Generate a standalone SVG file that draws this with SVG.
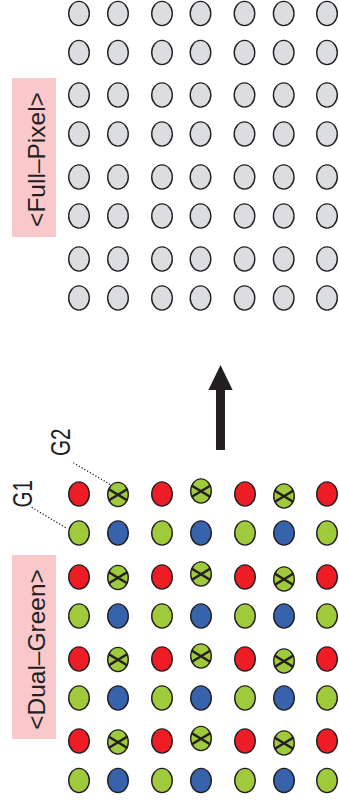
<svg xmlns="http://www.w3.org/2000/svg" width="339" height="809" viewBox="0 0 339 809">
<style>
.n{stroke:#231f20;stroke-width:1.4}
.gy{fill:#dcdde0}.r{fill:#ee1c25}.g{fill:#9fca3c}.b{fill:#3763ad}
.x{stroke:#231f20;stroke-width:2.6;fill:none}
.lbl{font-family:"Liberation Sans",Arial,sans-serif;fill:#231f20;text-anchor:middle}
.lead{stroke:#231f20;stroke-width:1.3;stroke-dasharray:1.2 2;fill:none}
</style>
<defs>
<ellipse id="e" rx="10.3" ry="12.1"/>
<path id="xx" d="M-9.5,-5.5L9.5,6M-9.5,6L9.5,-5.5"/>
</defs>
<rect x="12" y="78" width="44" height="159" fill="#f9c8cb"/>
<rect x="12" y="555" width="44" height="184" fill="#f9c8cb"/>
<text class="lbl" font-size="24.5" transform="translate(45,159.5) rotate(-90)">&lt;Full–Pixel&gt;</text>
<text class="lbl" font-size="24.5" transform="translate(45,649.5) rotate(-90)">&lt;Dual–Green&gt;</text>
<text class="lbl" font-size="27" textLength="27.5" lengthAdjust="spacingAndGlyphs" transform="translate(31.5,493.7) rotate(-90)">G1</text>
<text class="lbl" font-size="27" textLength="27.5" lengthAdjust="spacingAndGlyphs" transform="translate(70,442.2) rotate(-90)">G2</text>
<g id="connectors">
<path class="lead" d="M31.7,507.3L67,528.5"/>
<path class="lead" d="M73.3,462.7L111,485"/>
<g id="arrow" fill="#231f20"><rect x="216" y="389" width="9" height="61"/><polygon points="220.5,365 232.6,390 208.4,390"/></g>
</g>
<g id="full-pixel" class="n">
<g id="t1c1"><use href="#e" class="gy" x="79" y="13.5"/></g><g id="t1c2"><use href="#e" class="gy" x="118" y="13.5"/></g><g id="t1c3"><use href="#e" class="gy" x="162" y="13.5"/></g><g id="t1c4"><use href="#e" class="gy" x="200.5" y="13.5"/></g><g id="t1c5"><use href="#e" class="gy" x="244.5" y="13.5"/></g><g id="t1c6"><use href="#e" class="gy" x="283.7" y="13.5"/></g><g id="t1c7"><use href="#e" class="gy" x="327" y="13.5"/></g>
<g id="t2c1"><use href="#e" class="gy" x="79" y="52.5"/></g><g id="t2c2"><use href="#e" class="gy" x="118" y="52.5"/></g><g id="t2c3"><use href="#e" class="gy" x="162" y="52.5"/></g><g id="t2c4"><use href="#e" class="gy" x="200.5" y="52.5"/></g><g id="t2c5"><use href="#e" class="gy" x="244.5" y="52.5"/></g><g id="t2c6"><use href="#e" class="gy" x="283.7" y="52.5"/></g><g id="t2c7"><use href="#e" class="gy" x="327" y="52.5"/></g>
<g id="t3c1"><use href="#e" class="gy" x="79" y="95"/></g><g id="t3c2"><use href="#e" class="gy" x="118" y="95"/></g><g id="t3c3"><use href="#e" class="gy" x="162" y="95"/></g><g id="t3c4"><use href="#e" class="gy" x="200.5" y="95"/></g><g id="t3c5"><use href="#e" class="gy" x="244.5" y="95"/></g><g id="t3c6"><use href="#e" class="gy" x="283.7" y="95"/></g><g id="t3c7"><use href="#e" class="gy" x="327" y="95"/></g>
<g id="t4c1"><use href="#e" class="gy" x="79" y="134"/></g><g id="t4c2"><use href="#e" class="gy" x="118" y="134"/></g><g id="t4c3"><use href="#e" class="gy" x="162" y="134"/></g><g id="t4c4"><use href="#e" class="gy" x="200.5" y="134"/></g><g id="t4c5"><use href="#e" class="gy" x="244.5" y="134"/></g><g id="t4c6"><use href="#e" class="gy" x="283.7" y="134"/></g><g id="t4c7"><use href="#e" class="gy" x="327" y="134"/></g>
<g id="t5c1"><use href="#e" class="gy" x="79" y="177"/></g><g id="t5c2"><use href="#e" class="gy" x="118" y="177"/></g><g id="t5c3"><use href="#e" class="gy" x="162" y="177"/></g><g id="t5c4"><use href="#e" class="gy" x="200.5" y="177"/></g><g id="t5c5"><use href="#e" class="gy" x="244.5" y="177"/></g><g id="t5c6"><use href="#e" class="gy" x="283.7" y="177"/></g><g id="t5c7"><use href="#e" class="gy" x="327" y="177"/></g>
<g id="t6c1"><use href="#e" class="gy" x="79" y="216"/></g><g id="t6c2"><use href="#e" class="gy" x="118" y="216"/></g><g id="t6c3"><use href="#e" class="gy" x="162" y="216"/></g><g id="t6c4"><use href="#e" class="gy" x="200.5" y="216"/></g><g id="t6c5"><use href="#e" class="gy" x="244.5" y="216"/></g><g id="t6c6"><use href="#e" class="gy" x="283.7" y="216"/></g><g id="t6c7"><use href="#e" class="gy" x="327" y="216"/></g>
<g id="t7c1"><use href="#e" class="gy" x="79" y="259"/></g><g id="t7c2"><use href="#e" class="gy" x="118" y="259"/></g><g id="t7c3"><use href="#e" class="gy" x="162" y="259"/></g><g id="t7c4"><use href="#e" class="gy" x="200.5" y="259"/></g><g id="t7c5"><use href="#e" class="gy" x="244.5" y="259"/></g><g id="t7c6"><use href="#e" class="gy" x="283.7" y="259"/></g><g id="t7c7"><use href="#e" class="gy" x="327" y="259"/></g>
<g id="t8c1"><use href="#e" class="gy" x="79" y="298"/></g><g id="t8c2"><use href="#e" class="gy" x="118" y="298"/></g><g id="t8c3"><use href="#e" class="gy" x="162" y="298"/></g><g id="t8c4"><use href="#e" class="gy" x="200.5" y="298"/></g><g id="t8c5"><use href="#e" class="gy" x="244.5" y="298"/></g><g id="t8c6"><use href="#e" class="gy" x="283.7" y="298"/></g><g id="t8c7"><use href="#e" class="gy" x="327" y="298"/></g>
</g>
<g id="dual-green" class="n">
<g id="b1c1"><use href="#e" class="r" x="79" y="494"/></g><g id="b1c2"><use href="#e" class="g" x="118" y="494.5"/><use href="#xx" class="x" x="118" y="494.5"/></g><g id="b1c3"><use href="#e" class="r" x="162" y="494"/></g><g id="b1c4"><use href="#e" class="g" x="201" y="491"/><use href="#xx" class="x" x="201" y="491"/></g><g id="b1c5"><use href="#e" class="r" x="245" y="494"/></g><g id="b1c6"><use href="#e" class="g" x="284" y="496"/><use href="#xx" class="x" x="284" y="496"/></g><g id="b1c7"><use href="#e" class="r" x="327" y="494"/></g>
<g id="b2c1"><use href="#e" class="g" x="79" y="533"/></g><g id="b2c2"><use href="#e" class="b" x="118" y="533"/></g><g id="b2c3"><use href="#e" class="g" x="162" y="533"/></g><g id="b2c4"><use href="#e" class="b" x="201" y="533"/></g><g id="b2c5"><use href="#e" class="g" x="245" y="533"/></g><g id="b2c6"><use href="#e" class="b" x="284" y="533"/></g><g id="b2c7"><use href="#e" class="g" x="327" y="533"/></g>
<g id="b3c1"><use href="#e" class="r" x="79" y="577"/></g><g id="b3c2"><use href="#e" class="g" x="118" y="577.5"/><use href="#xx" class="x" x="118" y="577.5"/></g><g id="b3c3"><use href="#e" class="r" x="162" y="577"/></g><g id="b3c4"><use href="#e" class="g" x="201" y="574"/><use href="#xx" class="x" x="201" y="574"/></g><g id="b3c5"><use href="#e" class="r" x="245" y="577"/></g><g id="b3c6"><use href="#e" class="g" x="284" y="579"/><use href="#xx" class="x" x="284" y="579"/></g><g id="b3c7"><use href="#e" class="r" x="327" y="577"/></g>
<g id="b4c1"><use href="#e" class="g" x="79" y="616"/></g><g id="b4c2"><use href="#e" class="b" x="118" y="616"/></g><g id="b4c3"><use href="#e" class="g" x="162" y="616"/></g><g id="b4c4"><use href="#e" class="b" x="201" y="616"/></g><g id="b4c5"><use href="#e" class="g" x="245" y="616"/></g><g id="b4c6"><use href="#e" class="b" x="284" y="616"/></g><g id="b4c7"><use href="#e" class="g" x="327" y="616"/></g>
<g id="b5c1"><use href="#e" class="r" x="79" y="659"/></g><g id="b5c2"><use href="#e" class="g" x="118" y="659.5"/><use href="#xx" class="x" x="118" y="659.5"/></g><g id="b5c3"><use href="#e" class="r" x="162" y="659"/></g><g id="b5c4"><use href="#e" class="g" x="201" y="656"/><use href="#xx" class="x" x="201" y="656"/></g><g id="b5c5"><use href="#e" class="r" x="245" y="659"/></g><g id="b5c6"><use href="#e" class="g" x="284" y="661"/><use href="#xx" class="x" x="284" y="661"/></g><g id="b5c7"><use href="#e" class="r" x="327" y="659"/></g>
<g id="b6c1"><use href="#e" class="g" x="79" y="698"/></g><g id="b6c2"><use href="#e" class="b" x="118" y="698"/></g><g id="b6c3"><use href="#e" class="g" x="162" y="698"/></g><g id="b6c4"><use href="#e" class="b" x="201" y="698"/></g><g id="b6c5"><use href="#e" class="g" x="245" y="698"/></g><g id="b6c6"><use href="#e" class="b" x="284" y="698"/></g><g id="b6c7"><use href="#e" class="g" x="327" y="698"/></g>
<g id="b7c1"><use href="#e" class="r" x="79" y="741"/></g><g id="b7c2"><use href="#e" class="g" x="118" y="742"/><use href="#xx" class="x" x="118" y="742"/></g><g id="b7c3"><use href="#e" class="r" x="162" y="741"/></g><g id="b7c4"><use href="#e" class="g" x="201" y="738.5"/><use href="#xx" class="x" x="201" y="738.5"/></g><g id="b7c5"><use href="#e" class="r" x="245" y="741"/></g><g id="b7c6"><use href="#e" class="g" x="284" y="743"/><use href="#xx" class="x" x="284" y="743"/></g><g id="b7c7"><use href="#e" class="r" x="327" y="741"/></g>
<g id="b8c1"><use href="#e" class="g" x="79" y="780.5"/></g><g id="b8c2"><use href="#e" class="b" x="118" y="780.5"/></g><g id="b8c3"><use href="#e" class="g" x="162" y="780.5"/></g><g id="b8c4"><use href="#e" class="b" x="201" y="780.5"/></g><g id="b8c5"><use href="#e" class="g" x="245" y="780.5"/></g><g id="b8c6"><use href="#e" class="b" x="284" y="780.5"/></g><g id="b8c7"><use href="#e" class="g" x="327" y="780.5"/></g>
</g>
</svg>
